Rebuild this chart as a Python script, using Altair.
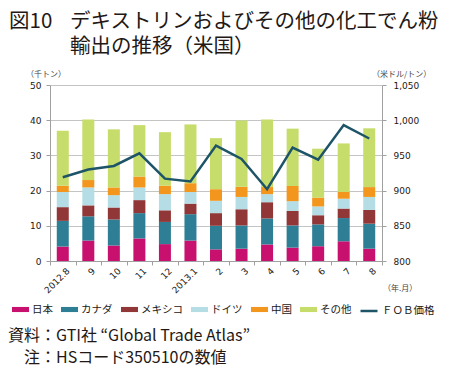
import altair as alt
import pandas as pd

months = ["2012.8", "9", "10", "11", "12", "2013.1", "2", "3", "4", "5", "6", "7", "8"]
countries = ["日本", "カナダ", "メキシコ", "ドイツ", "中国", "その他"]
colors = ["#C8106E", "#2E7F96", "#923737", "#B5DDE5", "#F2961E", "#C6DC6B"]

japan = [4.1, 5.8, 4.4, 6.4, 4.8, 5.8, 3.3, 3.5, 4.7, 3.8, 4.2, 5.6, 3.5]
canada = [7.3, 6.9, 7.4, 7.2, 6.3, 7.5, 6.7, 6.6, 7.4, 6.3, 6.2, 6.6, 7.1]
mexico = [3.9, 3.1, 3.4, 3.7, 3.3, 3.0, 3.6, 4.6, 4.6, 4.1, 2.6, 2.7, 3.9]
germany = [4.3, 5.1, 3.5, 3.6, 4.6, 3.3, 3.5, 3.5, 2.3, 2.8, 2.5, 2.8, 3.7]
china = [1.8, 2.1, 2.2, 3.1, 2.4, 2.5, 3.3, 2.9, 2.0, 4.3, 2.5, 1.9, 2.8]
others = [15.6, 17.2, 16.5, 14.6, 15.2, 16.7, 14.5, 18.8, 19.2, 16.3, 13.9, 13.8, 16.7]
fob = [919, 930, 935, 953, 917, 913, 964, 945, 902, 961, 944, 993, 974]

left_ticks = [0, 10, 20, 30, 40, 50]
right_ticks = [800, 850, 900, 950, 1000, 1050]

series = [japan, canada, mexico, germany, china, others]
rows = []
for i, (c, vals) in enumerate(zip(countries, series)):
    for m, v in zip(months, vals):
        rows.append({"month": m, "country": c, "value": v, "idx": i})
bars_df = pd.DataFrame(rows)
line_df = pd.DataFrame({"month": months, "price": fob, "name": ["ＦＯＢ価格"] * len(months)})

JP = "Noto Sans CJK JP"
NUM = "DejaVu Sans"
TXT = "#231815"
W, H = 332, 176

xenc = alt.X(
    "month:N", sort=months, title=None,
    scale=alt.Scale(paddingInner=0, paddingOuter=0),
    axis=alt.Axis(labelAngle=-45, labelAlign="right", labelBaseline="middle",
                  tickBand="extent", tickSize=4, tickColor="#A0A0A0",
                  domainColor="#A0A0A0", labelFont=NUM, labelFontSize=9,
                  labelColor=TXT, labelPadding=4, labelOffset=5, grid=False),
)

bars = alt.Chart(bars_df).mark_bar(size=12).encode(
    x=xenc,
    y=alt.Y("value:Q", stack="zero", title=None,
            scale=alt.Scale(domain=[0, 50], nice=False),
            axis=alt.Axis(values=left_ticks, orient="left", grid=True, gridColor="#C4C4C4",
                          tickSize=4, tickColor="#A0A0A0", domainColor="#A0A0A0",
                          labelFont=NUM, labelFontSize=9, labelColor=TXT, labelPadding=5)),
    color=alt.Color("country:N", scale=alt.Scale(domain=countries, range=colors),
                    legend=alt.Legend(title=None, orient="none", direction="horizontal", columns=6,
                                      legendX=-38, legendY=216,
                                      symbolType="M-1,-0.3H1V0.3H-1Z", symbolSize=289,
                                      symbolStrokeWidth=0, labelFont=JP, labelFontSize=10.5,
                                      labelColor=TXT, labelOffset=3, columnPadding=8)),
    order=alt.Order("idx:Q", sort="ascending"),
)

line = alt.Chart(line_df).mark_line(strokeWidth=2.5).encode(
    x=alt.X("month:N", sort=months),
    y=alt.Y("price:Q", title=None,
            scale=alt.Scale(domain=[800, 1050], nice=False),
            axis=alt.Axis(values=right_ticks, orient="right", grid=False,
                          labelExpr="format(datum.value, ',.0f')",
                          tickSize=4, tickColor="#A0A0A0", domainColor="#A0A0A0",
                          labelFont=NUM, labelFontSize=9, labelColor=TXT, labelPadding=7)),
    color=alt.Color("name:N", scale=alt.Scale(range=["#1D5467"]),
                    legend=alt.Legend(title=None, orient="none", direction="horizontal",
                                      legendX=309, legendY=216, symbolType="stroke",
                                      symbolSize=289, symbolStrokeWidth=2.5,
                                      labelFont=JP, labelFontSize=10.5, labelColor=TXT,
                                      labelOffset=3)),
)


def txt(s, x, y, size, align="left", color=TXT, weight="normal"):
    return alt.Chart(pd.DataFrame({"t": [s]})).mark_text(
        align=align, baseline="middle", fontSize=size, font=JP, color=color, fontWeight=weight
    ).encode(text="t:N", x=alt.value(x), y=alt.value(y))


texts = [
    txt("図10", -41, -63.5, 20.5),
    txt("デキストリンおよびその他の化工でん粉", 20, -63.5, 20.5),
    txt("輸出の推移（米国）", 20, -38.5, 20.5),
    txt("（千トン）", -24, -10, 8, color="#444444"),
    txt("（米ドル/トン）", 322, -10, 8, color="#444444"),
    txt("（年.月）", 333, 204, 8, color="#444444"),
    txt("資料：GTI社 “Global Trade Atlas”", -42, 251, 16),
    txt("注：HSコード350510の数値", -26, 273, 16),
]

chart = alt.layer(bars, line, *texts).resolve_scale(
    y="independent", color="independent"
).properties(
    width=W, height=H,
    autosize=alt.AutoSizeParams(type="none"),
    padding={"left": 42, "top": 77, "right": 60, "bottom": 106},
).configure_view(stroke=None)

chart.save("out.html", embed_options={"renderer": "svg", "actions": False})
